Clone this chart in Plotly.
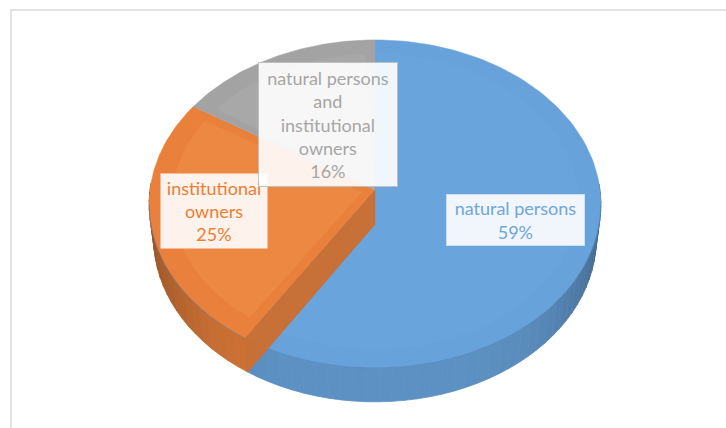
import math
import numpy as np
import plotly.graph_objects as go

# ---- data -------------------------------------------------------------
categories = ["natural persons", "institutional owners",
              "natural persons and institutional owners"]
shares = [59, 25, 16]
label_texts = [
    "natural persons<br>59%",
    "institutional<br>owners<br>25%",
    "natural persons<br>and<br>institutional<br>owners<br>16%",
]

# ---- styling ----------------------------------------------------------
top_colors = ["#68A2DA", "#E9813C", "#A3A3A3"]
inner_colors = ["#6AA4DC", "#ED8843", "#A8A8A8"]
text_colors = ["#6FA6DB", "#ED7D31", "#A6A6A6"]
W, H_PX = 726, 428

# perspective camera for a tilted 3-D pie
CX, CY = 375.0, 190.0
FOCAL = 1816.0
DIST = 8.07
SIN_E, COS_E = 0.724, 0.690
THICK = 0.226


def proj(x, yd, z):
    v = yd * SIN_E - z * COS_E
    w = DIST - (yd * COS_E + z * SIN_E)
    return CX + FOCAL * x / w, CY + FOCAL * v / w


def rim(theta_deg, r=1.0, z=0.0):
    t = math.radians(theta_deg)
    return proj(r * math.sin(t), -r * math.cos(t), z)


def shade(hex_color, f):
    h = hex_color.lstrip("#")
    rgb = [int(h[i:i + 2], 16) for i in (0, 2, 4)]
    return "rgb({},{},{})".format(*[max(0, min(255, int(c * f))) for c in rgb])


total = float(sum(shares))
bounds = np.concatenate([[0.0], np.cumsum(shares) / total * 360.0])

fig = go.Figure()


def poly(xs, ys, color, line_color=None, lw=0.6, opacity=1.0):
    fig.add_trace(go.Scatter(
        x=list(xs) + [xs[0]], y=list(ys) + [ys[0]], mode="lines",
        fill="toself", fillcolor=color, opacity=opacity,
        line=dict(color=line_color or color, width=lw),
        hoverinfo="skip", showlegend=False))


# outer walls (front half only), shaded by angle
for i in range(len(shares)):
    a0, a1 = bounds[i], bounds[i + 1]
    n = max(4, int((a1 - a0) / 3))
    th = np.linspace(a0, a1, n + 1)
    for j in range(n):
        ta, tb = th[j], th[j + 1]
        mid = math.radians((ta + tb) / 2)
        if -math.cos(mid) < -0.05:
            continue
        xa, ya = rim(ta)
        xb, yb = rim(tb)
        xc, yc = rim(tb, z=-THICK)
        xd, yd = rim(ta, z=-THICK)
        f = 0.9 - 0.25 * abs(math.sin(mid)) ** 4
        col = shade(top_colors[i], f)
        poly([xa, xb, xc, xd], [ya, yb, yc, yd], col, lw=0.8)

# top faces
for i in range(len(shares)):
    a0, a1 = bounds[i], bounds[i + 1]
    th = np.linspace(a0, a1, 120)
    pts = [rim(t) for t in th]
    ax, ay = proj(0, 0, 0)
    xs = [ax] + [p[0] for p in pts]
    ys = [ay] + [p[1] for p in pts]
    poly(xs, ys, top_colors[i], lw=0.5)

# soft bevel highlight on top faces
for i in range(len(shares)):
    a0, a1 = bounds[i], bounds[i + 1]
    inset = 3.0 if i > 0 else 1.0
    th = np.linspace(a0 + inset, a1 - inset, 120)
    pts = [rim(t, r=0.9) for t in th]
    ax, ay = proj(0, 0, 0)
    if i == 1:
        mid = math.radians((a0 + a1) / 2)
        ax, ay = proj(0.06 * math.sin(mid), -0.06 * math.cos(mid), 0)
    xs = [ax] + [p[0] for p in pts]
    ys = [ay] + [p[1] for p in pts]
    poly(xs, ys, inner_colors[i], lw=0)

# rim edge line along the front of the top face
th = np.linspace(95, 265, 120)
fr = [rim(t) for t in th]
fig.add_trace(go.Scatter(x=[p[0] for p in fr], y=[p[1] for p in fr],
                         mode="lines", line=dict(color="rgba(70,120,175,0.5)", width=1),
                         hoverinfo="skip", showlegend=False))

# radial wall of the institutional-owners slice
cut = bounds[1]
p1 = proj(0, 0, 0)
p2 = rim(cut)
p3 = rim(cut, z=-THICK)
p4 = proj(0, 0, -THICK)
poly([p1[0], p2[0], p3[0], p4[0]], [p1[1], p2[1], p3[1], p4[1]],
     "#CF6E2D", lw=0.5, opacity=0.93)

# data labels
label_boxes = [  # centre x, centre y, width, height
    (515.5, 220.0, 137, 50),
    (214.0, 211.0, 106, 74),
    (328.0, 124.5, 138, 123),
]
borders = ["rgba(210,225,240,0.9)", "rgba(255,255,255,0)", "rgba(190,190,190,0.9)"]
for i in [0, 1, 2]:
    cx, cy, bw, bh = label_boxes[i]
    fig.add_annotation(
        x=cx, y=cy, xref="x", yref="y", text=label_texts[i], showarrow=False,
        width=bw, height=bh, align="center", valign="middle",
        bgcolor="rgba(255,255,255,0.9)", bordercolor=borders[i], borderwidth=1,
        borderpad=0,
        font=dict(family="Lato, 'Open Sans', sans-serif", size=18,
                  color=text_colors[i]))

# chart frame
fig.add_shape(type="rect", xref="x", yref="y", x0=11, y0=10, x1=760, y1=470,
              line=dict(color="#D9D9D9", width=1.5), layer="below")

fig.update_layout(
    width=W, height=H_PX, margin=dict(l=0, r=0, t=0, b=0),
    paper_bgcolor="white", plot_bgcolor="white",
    xaxis=dict(range=[0, W], visible=False, fixedrange=True),
    yaxis=dict(range=[H_PX, 0], visible=False, fixedrange=True),
    showlegend=False,
)

fig.write_html("out.html")
